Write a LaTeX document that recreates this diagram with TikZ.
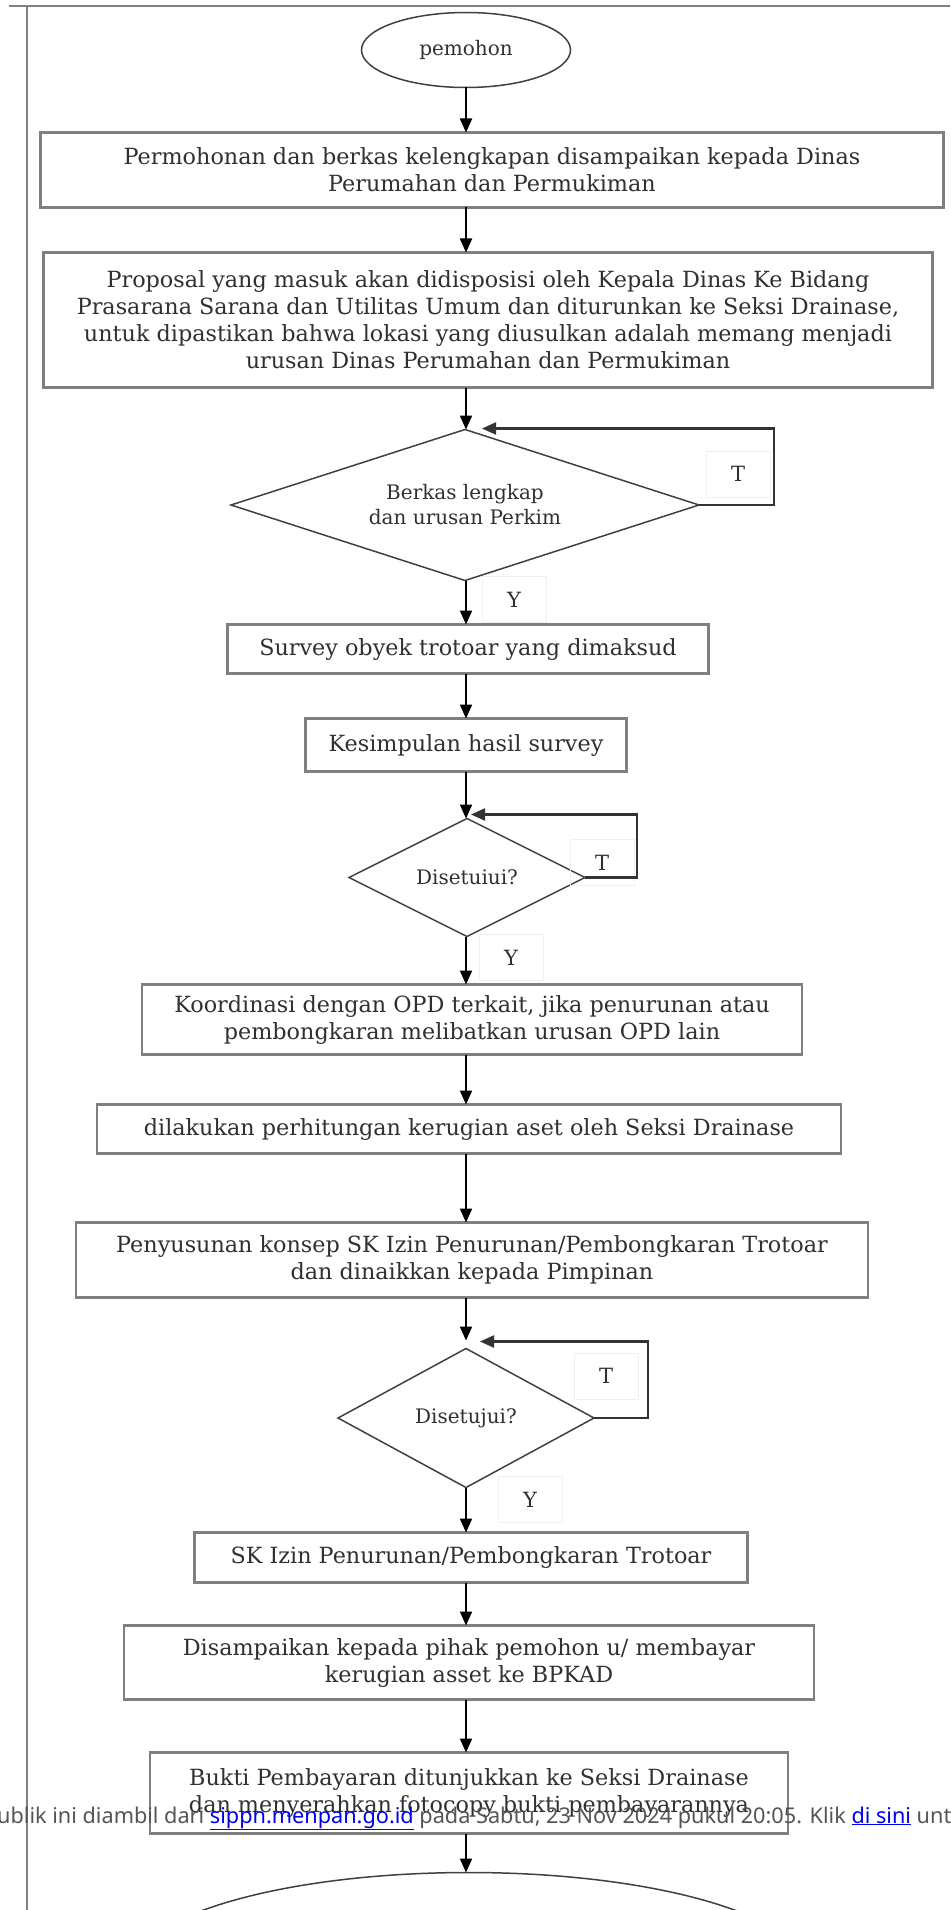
\documentclass[tikz,border=0pt]{standalone}
\usepackage{fontspec}
\setmainfont{DejaVu Serif}
\newfontfamily\webfont{Noto Sans}
\usepackage{xcolor}
\usepackage{tikz}
\usetikzlibrary{positioning,arrows.meta,shapes.geometric,calc}

\definecolor{rulegray}{HTML}{808080}
\definecolor{ink}{HTML}{303030}
\definecolor{weblink}{HTML}{0000EE}
\definecolor{webgray}{HTML}{555555}

\newcommand{\flowfont}{\fontsize{22.3}{27}\selectfont}
\newcommand{\askfont}{\fontsize{20}{25}\selectfont}
\newcommand{\tagfont}{\fontsize{21}{24}\selectfont}
\newcommand{\creditfont}{\webfont\fontsize{21.7}{24}\selectfont}

\begin{document}
\begin{tikzpicture}[
  x=1pt, y=-1pt,
  stepbox/.style={rectangle, draw=rulegray, line width=2.2pt, fill=white, text=ink,
                  align=center, inner sep=0pt, outer sep=0pt, font=\flowfont},
  decision/.style={diamond, draw=black!75, line width=1.5pt, text=ink,
                   align=center, inner sep=0pt, outer sep=0pt, font=\askfont},
  terminal/.style={ellipse, draw=black!75, line width=1.5pt, text=ink,
                   inner sep=0pt, outer sep=0pt, font=\askfont},
  tag/.style={rectangle, draw=black!6, line width=0.8pt, text=ink, font=\tagfont,
              minimum width=64pt, minimum height=46pt, inner sep=0pt, outer sep=0pt},
  arrow/.style={-{Triangle[length=14pt,width=12pt]}, line width=2pt, black},
  loopback/.style={-{Triangle[length=14pt,width=12pt]}, line width=2.2pt, black!80}
]

\useasboundingbox (0,0) rectangle (950,1910);
\clip (0,0) rectangle (950,1910);

\draw[rulegray, line width=2.4pt] (9,6) -- (950,6);
\draw[rulegray, line width=2.4pt] (27,6) -- (27,1910);

\node[terminal, minimum width=209pt, minimum height=75pt] (start) at (466,50) {pemohon};
\node[stepbox, below=45pt of start, xshift=26pt, minimum width=903pt, minimum height=75pt] (s1)
  {Permohonan dan berkas kelengkapan disampaikan kepada Dinas\\Perumahan dan Permukiman};
\node[stepbox, below=45pt of s1, xshift=-4pt, minimum width=889pt, minimum height=135pt] (s2)
  {Proposal yang masuk akan didisposisi oleh Kepala Dinas Ke Bidang\\
   Prasarana Sarana dan Utilitas Umum dan diturunkan ke Seksi Drainase,\\
   untuk dipastikan bahwa lokasi yang diusulkan adalah memang menjadi\\
   urusan Dinas Perumahan dan Permukiman};
\node[decision, aspect=3, below=42pt of s2, xshift=-23pt, minimum width=468pt, minimum height=151pt] (d1)
  {Berkas lengkap\\dan urusan Perkim};
\node[stepbox, below=44pt of d1, xshift=3pt, minimum width=481pt, minimum height=49pt] (s3)
  {Survey obyek trotoar yang dimaksud};
\node[stepbox, below=45pt of s3, xshift=-2pt, minimum width=321pt, minimum height=53pt] (s4)
  {Kesimpulan hasil survey};
\node[decision, aspect=2, below=47pt of s4, xshift=1pt, minimum width=236pt, minimum height=118pt] (d2)
  {Disetuiui?};
\node[stepbox, below=48pt of d2, xshift=5pt, minimum width=660pt, minimum height=70pt] (s5)
  {Koordinasi dengan OPD terkait, jika penurunan atau\\pembongkaran melibatkan urusan OPD lain};
\node[stepbox, below=50pt of s5, xshift=-3pt, minimum width=744pt, minimum height=49pt] (s6)
  {dilakukan perhitungan kerugian aset oleh Seksi Drainase};
\node[stepbox, below=69pt of s6, xshift=3pt, minimum width=792pt, minimum height=75pt] (s7)
  {Penyusunan konsep SK Izin Penurunan/Pembongkaran Trotoar\\dan dinaikkan kepada Pimpinan};
\node[decision, aspect=1.8, below=51pt of s7, xshift=-6pt, minimum width=256pt, minimum height=139pt] (d3)
  {Disetujui?};
\node[stepbox, below=45pt of d3, xshift=5pt, minimum width=553pt, minimum height=50pt] (s8)
  {SK Izin Penurunan/Pembongkaran Trotoar};
\node[stepbox, below=43pt of s8, xshift=-2pt, minimum width=690pt, minimum height=74pt] (s9)
  {Disampaikan kepada pihak pemohon u/ membayar\\kerugian asset ke BPKAD};
\node[stepbox, below=53pt of s9, minimum width=638pt, minimum height=81pt] (s10)
  {Bukti Pembayaran ditunjukkan ke Seksi Drainase\\dan menyerahkan fotocopy bukti pembayarannya};
\node[terminal, below=39pt of s10, minimum width=680pt, minimum height=200pt] (finish) {};

\node[tag] (t1) at ($(d1.east)+(39,-31)$) {T};
\node[tag] (y1) at ($(d1.south)+(49,19)$) {Y};
\node[tag] (t2) at ($(d2.east)+(17,-15)$) {T};
\node[tag] (y2) at ($(d2.south)+(44,21)$) {Y};
\node[tag] (t3) at ($(d3.east)+(12,-42)$) {T};
\node[tag] (y3) at ($(d3.south)+(64,12)$) {Y};

\foreach \i/\j in {start/s1, s1/s2, s2/d1, d1/s3, s3/s4, s4/d2, d2/s5, s5/s6, s6/s7,
                   d3/s8, s8/s9, s9/s10, s10/finish} {
  \draw[arrow] (\i.south -| start) -- (\j.north -| start);
}
\draw[arrow, shorten >=8pt] (s7.south -| start) -- (d3.north -| start);

\draw[loopback] (d1.east) -- ++(75,0) |- ($(d1.north)+(17,-1)$);
\draw[loopback] (d2.east) -- ++(52,0) |- ($(d2.north)+(4,-4)$);
\draw[loopback] (d3.east) -- ++(54,0) |- ($(d3.north)+(14,-7)$);

\node[anchor=base west, inner sep=0pt, font=\creditfont, text=webgray] (credit) at (-3,1823)
  {ublik ini diambil dari \textcolor{weblink}{\underline{sippn.menpan.go.id}} pada Sabtu, 23 Nov 2024 pukul 20:05. Klik \textcolor{weblink}{\underline{di sini}} unt};

\end{tikzpicture}
\end{document}
